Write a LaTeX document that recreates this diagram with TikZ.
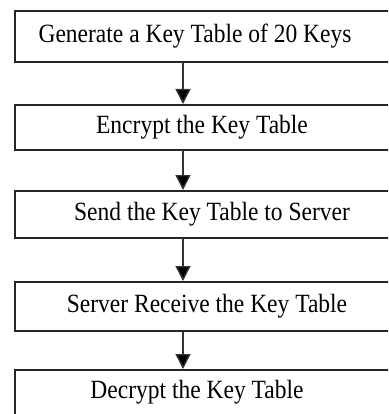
\documentclass[tikz,border=0pt]{standalone}
\usepackage{fontspec}
\setmainfont{Liberation Serif}
\usetikzlibrary{arrows.meta}
\begin{document}
\begin{tikzpicture}[x=1pt,y=-1pt,
  stepbox/.style={draw=black!85,line width=1.8pt,rectangle,inner sep=0pt,anchor=north west},
  steptext/.style={inner sep=0pt,font=\fontsize{23.5}{26}\selectfont},
  flow/.style={draw=black!80,line width=1.4pt,-{Triangle[width=15pt,length=15pt,fill=black]}}]
\clip (0,0) rectangle (388,414);
\node[stepbox,minimum width=390pt,minimum height=51pt] (b1) at (14,10) {};
\node[stepbox,minimum width=390pt,minimum height=45pt] (b2) at (14,104) {};
\node[stepbox,minimum width=390pt,minimum height=47pt] (b3) at (14,190) {};
\node[stepbox,minimum width=390pt,minimum height=49pt] (b4) at (14,281) {};
\node[stepbox,minimum width=390pt,minimum height=60pt] (b5) at (14,369) {};
\node[steptext] (t1) at (195,36) {\scalebox{1}[1.12]{Generate a Key Table of 20 Keys}};
\node[steptext] (t2) at (202,127) {\scalebox{1}[1.12]{Encrypt the Key Table}};
\node[steptext] (t3) at (212,214) {\scalebox{1}[1.12]{Send the Key Table to Server}};
\node[steptext] (t4) at (207,306) {\scalebox{1}[1.12]{Server Receive the Key Table}};
\node[steptext] (t5) at (197,392) {\scalebox{1}[1.12]{Decrypt the Key Table}};
\coordinate (ax) at (183,0);
\draw[flow] (b1.south -| ax) -- (b2.north -| ax);
\draw[flow] (b2.south -| ax) -- (b3.north -| ax);
\draw[flow] (b3.south -| ax) -- (b4.north -| ax);
\draw[flow] (b4.south -| ax) -- (b5.north -| ax);
\end{tikzpicture}
\end{document}
